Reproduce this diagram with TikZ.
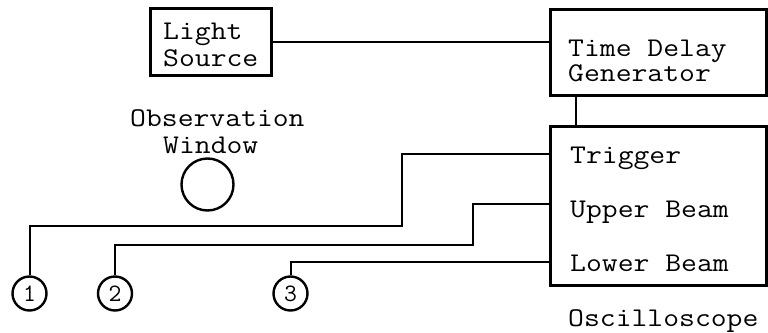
\documentclass[tikz,border=0pt]{standalone}
\usepackage{fontspec}
\newcommand{\tws}[1]{\scalebox{1.14}[1]{#1}}
\begin{document}
\begin{tikzpicture}[x=1pt,y=-1pt,
  box/.style={draw, line width=3pt, rectangle, inner sep=0pt},
  wire/.style={line width=2pt},
  txt/.style={font=\ttfamily\fontsize{27}{27}\selectfont, inner sep=0pt, anchor=base west},
  port/.style={draw, circle, line width=2.4pt, minimum size=34, inner sep=0pt, font=\ttfamily\fontsize{25}{25}\selectfont}]
\useasboundingbox (0,0) rectangle (768,332);
% boxes
\node[box, minimum width=121, minimum height=67] (ls) at (210.5,41.5) {};
\node[box, minimum width=216, minimum height=86] (tdg) at (658,52) {};
\node[box, minimum width=216, minimum height=159] (osc) at (658,205.5) {};
% texts
\node[txt] (t1) at (163,39) {\tws{Light}};
\node[txt] (t2) at (163,66) {\tws{Source}};
\node[txt] (t3) at (568,56) {\tws{Time Delay}};
\node[txt] (t4) at (568,81) {\tws{Generator}};
\node[txt] (t5) at (570,163) {\tws{Trigger}};
\node[txt] (t6) at (570,217) {\tws{Upper Beam}};
\node[txt] (t7) at (570,271) {\tws{Lower Beam}};
\node[txt] (t8) at (568,326) {\tws{Oscilloscope}};
\node[txt] (t9) at (130,126) {\tws{Observation}};
\node[txt] (t10) at (163,153) {\tws{Window}};
% observation window
\node[draw, circle, line width=2.4pt, minimum size=52, inner sep=0pt] (win) at (207.5,184.5) {};
% ports
\node[port] (c1) at (29.5,293.5) {1};
\node[port] (c2) at (115,293.5) {2};
\node[port] (c3) at (290.5,293.5) {3};
% connectors
\draw[wire] (ls.east) -- (ls.east -| tdg.west);
\draw[wire] (tdg.south -| 576,0) -- (osc.north -| 576,0);
\draw[wire] (osc.west |- 0,154) -| (402,226) -| (c1);
\draw[wire] (osc.west |- 0,204) -| (473,245) -| (c2);
\draw[wire] (osc.west |- 0,262) -| (c3);
\end{tikzpicture}
\end{document}
